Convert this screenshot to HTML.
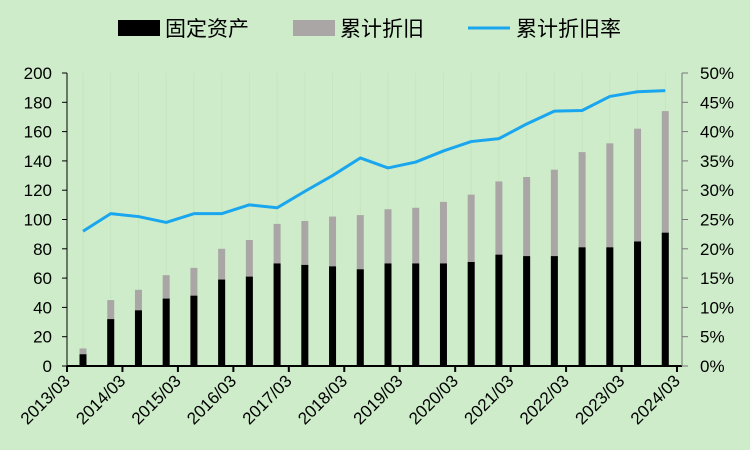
<!DOCTYPE html>
<html><head><meta charset="utf-8"><style>
body{margin:0;background:#ceecca;}
svg{display:block;font-family:"Liberation Sans","Noto Sans CJK SC",sans-serif;}
</style></head><body>
<svg width="750" height="450">
<rect width="750" height="450" fill="#ceecca"/>
<g>
<rect x="118" y="20" width="42" height="16" fill="#000"/>
<text x="165" y="36" font-size="21">固定资产</text>
<rect x="293" y="20" width="42" height="16" fill="#aaa6a6"/>
<text x="340" y="36" font-size="21">累计折旧</text>
<line x1="468" y1="28" x2="510" y2="28" stroke="#1aa6ee" stroke-width="3"/>
<text x="516" y="36" font-size="21">累计折旧率</text>
</g>
<g id="plot"></g>
</svg>
<script>
const categories=["2013/09","2014/03","2014/09","2015/03","2015/09","2016/03","2016/09","2017/03","2017/09","2018/03","2018/09","2019/03","2019/09","2020/03","2020/09","2021/03","2021/09","2022/03","2022/09","2023/03","2023/09","2024/03"];
const fixedAssets=[8,32,38,46,48,59,61,70,69,68,66,70,70,70,71,76,75,75,81,81,85,91];
const totals=[12,45,52,62,67,80,86,97,99,102,103,107,108,112,117,126,129,134,146,152,162,174];
const rate=[23,26,25.5,24.5,26,26,27.5,27,29.8,32.5,35.5,33.8,34.8,36.7,38.3,38.8,41.3,43.5,43.6,46,46.8,47];
const xTickLabels=["2013/03","2014/03","2015/03","2016/03","2017/03","2018/03","2019/03","2020/03","2021/03","2022/03","2023/03","2024/03"];
const leftTicks=[0,20,40,60,80,100,120,140,160,180,200];
const rightTicks=[0,5,10,15,20,25,30,35,40,45,50];
const NS="http://www.w3.org/2000/svg";
const g=document.getElementById('plot');
const x0=67,x1=677,y0=366,yTop=73;
const step=(x1-x0)/22;
const xBar=i=>x0+16+i*step;
const yL=v=>y0-(v/200)*(y0-yTop);
const yR=v=>y0-(v/50)*(y0-yTop);
function mk(t,a){const e=document.createElementNS(NS,t);for(const k in a)e.setAttribute(k,a[k]);g.appendChild(e);return e;}
categories.forEach((c,i)=>{
 const gl=mk('line',{x1:xBar(i),x2:xBar(i),y1:yTop,y2:y0,stroke:'#c4e6c0','stroke-width':1});
 
 
});
categories.forEach((c,i)=>{
 const gb=mk('rect',{x:xBar(i)-3.5,y:yL(totals[i]),width:7,height:y0-yL(totals[i]),fill:'#aaa6a6'});
 
 
 const bb=mk('rect',{x:xBar(i)-3.5,y:yL(fixedAssets[i]),width:7,height:y0-yL(fixedAssets[i]),fill:'#000'});
 
 
});
const ln=mk('polyline',{points:rate.map((v,i)=>xBar(i)+','+yR(v)).join(' '),fill:'none',stroke:'#1aa6ee','stroke-width':3,'stroke-linejoin':'round'});


const ax=mk('line',{x1:x0,x2:x1+5,y1:y0,y2:y0,stroke:'#000','stroke-width':2});


const la=mk('line',{x1:x0,x2:x0,y1:yTop,y2:y0,stroke:'#000','stroke-width':1});


const ra=mk('line',{x1:682,x2:682,y1:yTop,y2:y0,stroke:'#777','stroke-width':1});


leftTicks.forEach(v=>{
 mk('line',{x1:x0-5,x2:x0,y1:yL(v),y2:yL(v),stroke:'#000'});
 const t=mk('text',{x:52,y:yL(v)+6,'font-size':17,'text-anchor':'end'});t.textContent=v;
 
 
});
rightTicks.forEach(v=>{
 mk('line',{x1:682,x2:688,y1:yR(v),y2:yR(v),stroke:'#777'});
 const t=mk('text',{x:700,y:yR(v)+6,'font-size':17});t.textContent=v+'%';
 
 
});
xTickLabels.forEach((l,j)=>{
 const xx=x0+j*2*step;
 mk('line',{x1:xx,x2:xx,y1:y0,y2:y0+6,stroke:'#000','stroke-width':2});
 const t=mk('text',{x:xx+4,y:y0+16,'font-size':17,'text-anchor':'end',transform:`rotate(-45 ${xx+4} ${y0+16})`});t.textContent=l;
 
 
});
</script>
</body></html>
